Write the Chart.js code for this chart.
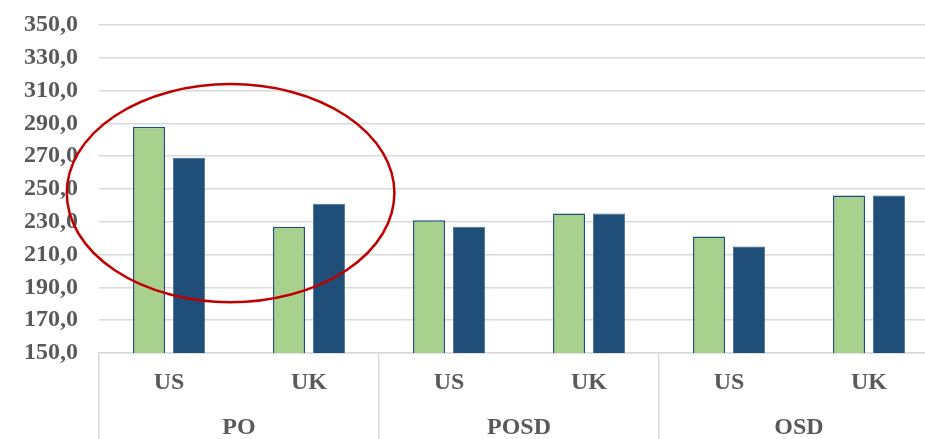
<!DOCTYPE html>
<html>
<head>
<meta charset="utf-8">
<script src="https://cdn.jsdelivr.net/npm/chart.js@4"></script>
<style>
  html, body { margin: 0; padding: 0; background: #fff; overflow: hidden; }
</style>
</head>
<body>
<canvas id="chart" width="940" height="439"></canvas>
<script>
const subLabels = ["US", "UK", "US", "UK", "US", "UK"];
const groupLabels = ["PO", "POSD", "OSD"];
const greenValues = [288, 227, 231, 235, 221, 246];
const blueValues = [269, 241, 227, 235, 215, 246];
// red ellipse in data terms: category index range and value range
const ellipseX = [-0.73, 1.61];
const ellipseY = [181, 314];

const labelFont = { family: "'Liberation Serif', 'Times New Roman', serif", size: 24, weight: "bold" };
const gray = "#D9D9D9";

const ellipsePlugin = {
    id: "ellipse",
    afterDatasetsDraw(chart) {
        const { ctx, scales: { x, y } } = chart;
        const x1 = x.getPixelForValue(ellipseX[0]), x2 = x.getPixelForValue(ellipseX[1]);
        const y1 = y.getPixelForValue(ellipseY[1]), y2 = y.getPixelForValue(ellipseY[0]);
        ctx.save();
        ctx.beginPath();
        ctx.ellipse((x1 + x2) / 2, (y1 + y2) / 2, (x2 - x1) / 2, (y2 - y1) / 2, 0, 0, Math.PI * 2);
        ctx.strokeStyle = "#C00000";
        ctx.lineWidth = 2.5;
        ctx.stroke();
        ctx.restore();
    }
};

new Chart(document.getElementById("chart").getContext("2d"), {
    type: "bar",
    data: {
        labels: subLabels,
        datasets: [{
            data: greenValues,
            backgroundColor: "#A9D18E",
            borderColor: "#1F4E79",
            borderWidth: 1.5
        }, {
            data: blueValues,
            backgroundColor: "#1F4E79",
            borderColor: "#3A6690",
            borderWidth: 0.8
        }]
    },
    options: {
        responsive: false,
        animation: false,
        categoryPercentage: 0.571,
        barPercentage: 0.8,
        layout: { padding: { top: 25, right: 1, left: 0, bottom: 0 } },
        plugins: { legend: { display: false }, tooltip: { enabled: false } },
        scales: {
            y: {
                min: 150,
                max: 350,
                afterFit: s => { s.width = 99; s.paddingTop = 0; s.paddingBottom = 0; },
                ticks: {
                    stepSize: 20,
                    autoSkip: false,
                    padding: 21,
                    color: "#595959",
                    font: labelFont,
                    callback: v => v.toFixed(1).replace(".", ",")
                },
                grid: { color: gray, lineWidth: 1.5, drawTicks: false },
                border: { display: false }
            },
            x: {
                position: "bottom",
                afterFit: s => { s.height = 50; },
                ticks: { color: "#595959", font: labelFont, padding: -71, maxRotation: 0, autoSkip: false },
                grid: {
                    offset: true,
                    drawOnChartArea: false,
                    tickLength: 86,
                    lineWidth: 1.5,
                    color: c => (c.index === undefined || c.index % 2 === 0) ? gray : "rgba(0,0,0,0)"
                },
                border: { color: gray, width: 1.5 }
            },
            x2: {
                type: "category",
                labels: groupLabels,
                position: "bottom",
                offset: true,
                afterFit: s => { s.height = 36; },
                ticks: { color: "#595959", font: labelFont, padding: 2, maxRotation: 0, autoSkip: false },
                grid: { display: false },
                border: { display: false }
            }
        }
    },
    plugins: [ellipsePlugin]
});
</script>
</body>
</html>
